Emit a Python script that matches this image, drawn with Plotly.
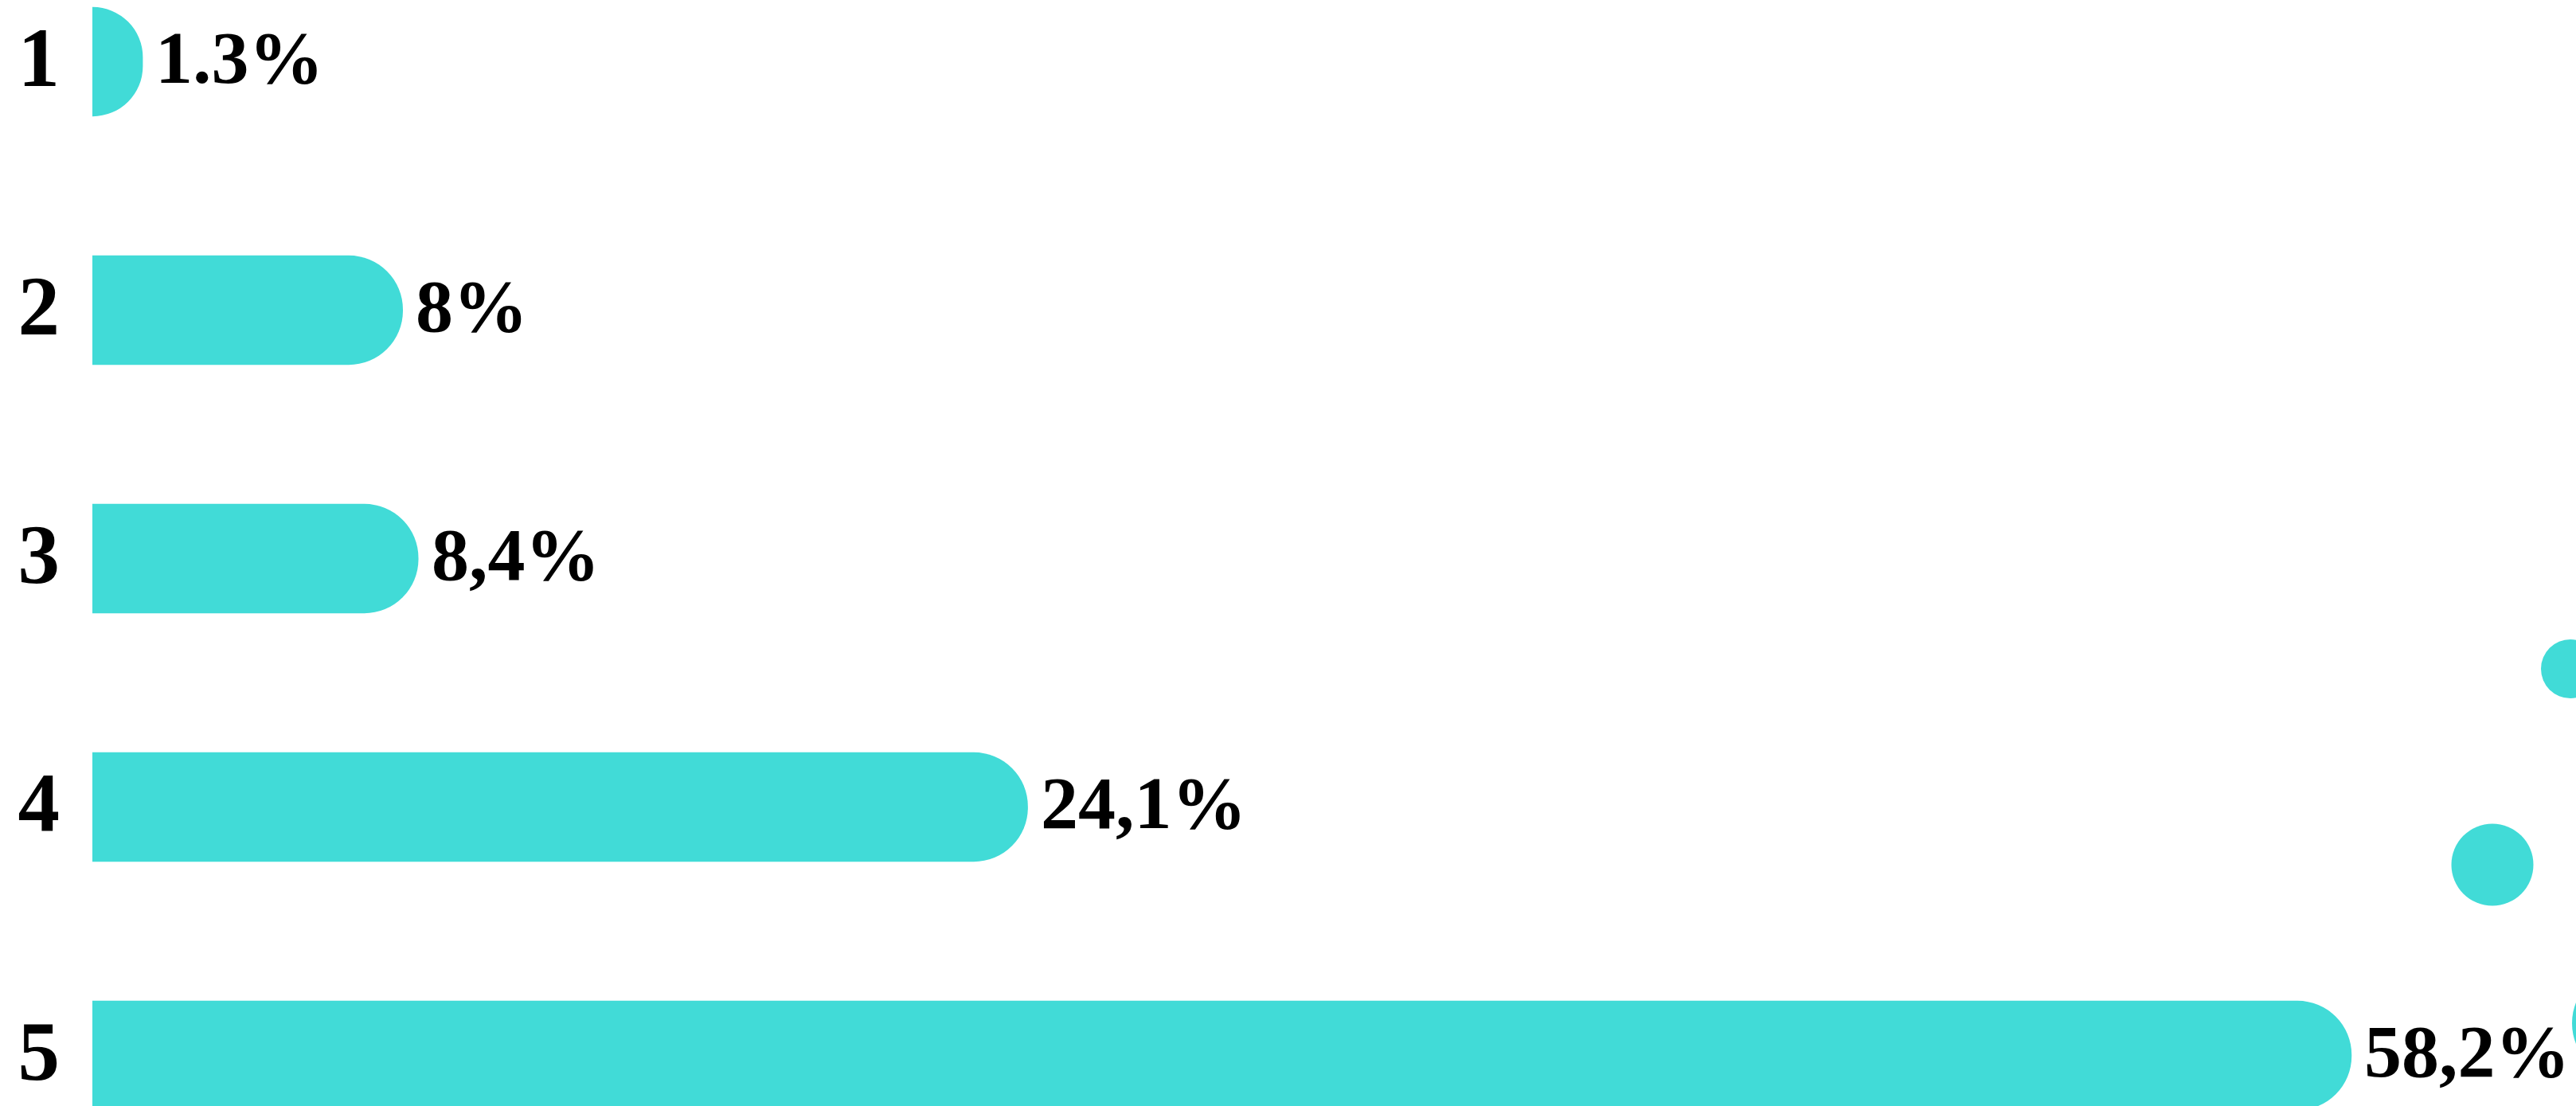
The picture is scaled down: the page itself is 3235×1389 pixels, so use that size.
import plotly.graph_objects as go

categories = ["1", "2", "3", "4", "5"]
values = [1.3, 8.0, 8.4, 24.1, 58.2]
value_labels = ["1.3%", "8%", "8,4%", "24,1%", "58,2%"]

BAR_COLOR = "#41DBD7"
W, H = 3235, 1389
ML = 116
FONT = "Liberation Serif, Times New Roman, serif"

fig = go.Figure()
fig.add_trace(go.Bar(
    x=values, y=categories, orientation="h",
    width=0.44,
    marker=dict(color=BAR_COLOR, line=dict(width=0), cornerradius="50%"),
    hoverinfo="skip",
))

for i, (v, t) in enumerate(zip(values, value_labels)):
    fig.add_annotation(
        x=v, y=i, text="<b>%s</b>" % t, showarrow=False, xanchor="left", yanchor="middle",
        xshift=14, yshift=6, font=dict(family=FONT, size=94, color="black"),
    )

# decorative circles at right edge (viewport pixel positions)
PW = W - ML
decor = [(3228, 840, 37), (3130, 1086, 51.5), (3300, 1285, 70)]
for cx, cy, r in decor:
    fig.add_shape(
        type="circle", xref="paper", yref="paper",
        x0=(cx - r - ML) / PW, x1=(cx + r - ML) / PW,
        y0=1 - (cy + r) / H, y1=1 - (cy - r) / H,
        fillcolor=BAR_COLOR, line=dict(width=0), layer="above",
    )

# category centres in viewport pixels: 77.5 + 312*i
top_val = -77.5 / 312
bot_val = 4 + (H - 1325.5) / 312

fig.update_layout(
    width=W, height=H,
    margin=dict(l=ML, r=0, t=0, b=0, autoexpand=False),
    paper_bgcolor="white", plot_bgcolor="white",
    showlegend=False,
    xaxis=dict(range=[0, PW / 48.75], visible=False, fixedrange=True, automargin=False),
    yaxis=dict(
        type="category", categoryorder="array", categoryarray=categories,
        range=[bot_val, top_val], automargin=False,
        showgrid=False, zeroline=False, showline=False, ticks="",
        ticklabelstandoff=40, ticklabelshift=6,
        tickmode="array", tickvals=categories, ticktext=["<b>%s</b>" % c for c in categories],
        tickfont=dict(family=FONT, size=105, color="black"),
    ),
)

fig.write_html(
    "out.html",
    config={"displayModeBar": False},
    post_script="document.body.style.margin='0';document.body.style.overflow='hidden';",
)
